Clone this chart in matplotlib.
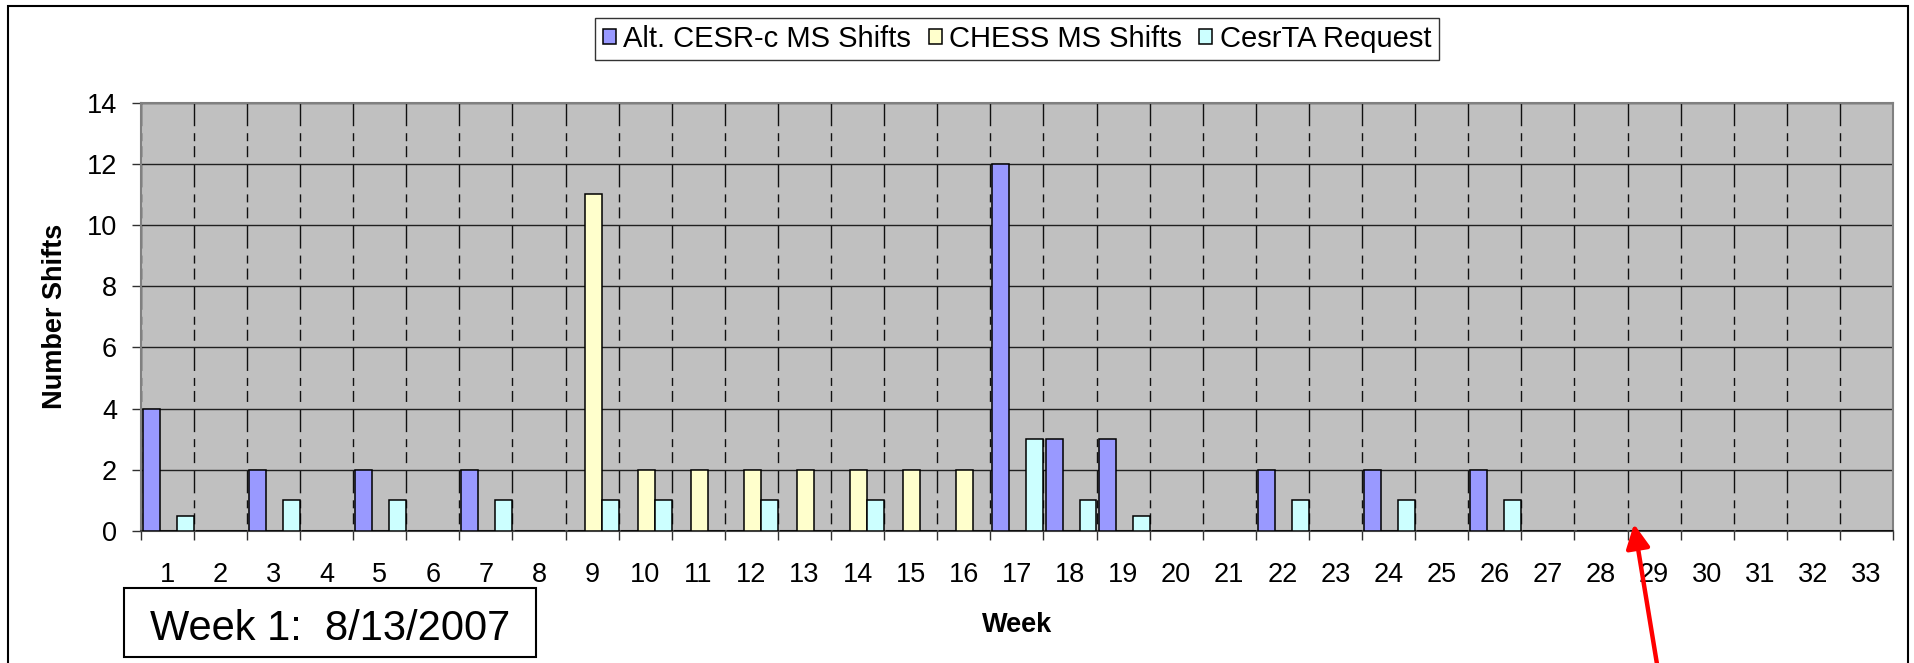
import numpy as np
import matplotlib
matplotlib.use('Agg')
import matplotlib.pyplot as plt
from matplotlib.patches import Rectangle, FancyArrowPatch

plt.rcParams['font.family'] = ['Liberation Sans', 'DejaVu Sans']
plt.rcParams['lines.scale_dashes'] = False

# ---- data ----
weeks = list(range(1, 34))
alt_cesr = [4, 0, 2, 0, 2, 0, 2, 0,
            0, 0, 0, 0, 0, 0, 0, 0,
            12, 3, 3, 0, 0, 2, 0, 2, 0, 2,
            0, 0, 0, 0, 0, 0, 0]
chess = [0, 0, 0, 0, 0, 0, 0, 0,
         11, 2, 2, 2, 2, 2, 2, 2,
         0, 0, 0, 0, 0, 0, 0, 0, 0, 0,
         0, 0, 0, 0, 0, 0, 0]
cesrta = [0.5, 0, 1, 0, 1, 0, 1, 0,
          1, 1, 0, 1, 0, 1, 0, 0,
          3, 1, 0.5, 0, 0, 1, 0, 1, 0, 1,
          0, 0, 0, 0, 0, 0, 0]
series_names = ['Alt. CESR-c MS Shifts', 'CHESS MS Shifts', 'CesrTA Request']
series_colors = ['#9999FF', '#FFFFCC', '#CCFFFF']
y_ticks = [0, 2, 4, 6, 8, 10, 12, 14]

W, H = 1915, 663
fig = plt.figure(figsize=(W / 100, H / 100), dpi=100)

ax_l, ax_r, ax_t, ax_b = 140.7, 1893.0, 102.7, 531.0
ax = fig.add_axes([ax_l / W, (H - ax_b) / H, (ax_r - ax_l) / W, (ax_b - ax_t) / H])
ax.set_facecolor('#C0C0C0')

x = np.array(weeks, dtype=float)
bw = 0.32
offsets = [-0.30, 0.02, 0.34]
for vals, off, col, lab in zip([alt_cesr, chess, cesrta], offsets, series_colors, series_names):
    ax.bar(x + off, vals, bw, color=col, edgecolor='black', linewidth=1.1,
           label=lab, zorder=3)

ax.set_xlim(0.5, 33.5)
ax.set_ylim(0, 14)
ax.set_axisbelow(True)

# x: boundary ticks (major) with gridlines, labels on minor ticks at centers
ax.set_xticks(np.arange(0.5, 34, 1.0))
ax.set_xticklabels([])
ax.set_xticks(x, minor=True)
ax.set_xticklabels([str(v) for v in weeks], minor=True)
ax.tick_params(axis='x', which='major', length=6.5, width=1.0, color='#303030', direction='out')
ax.tick_params(axis='x', which='minor', length=0, pad=22.3, labelsize=19.5)

ax.set_yticks(y_ticks)
ax.set_yticklabels([str(v) for v in y_ticks])
ax.tick_params(axis='y', length=6.5, width=1.0, color='#303030', direction='out',
               pad=10.5, labelsize=19.5)

# grids
period_px = (ax_b - ax_t) / 7.0
pat_px = [11, 5, 8, 7, 23, period_px - 54]
pat_pt = tuple(p * 0.72 for p in pat_px)
ax.yaxis.grid(True, color='#202020', linewidth=1.0)
ax.xaxis.grid(True, which='major', color='#101010', linewidth=1.0,
              linestyle=(54 * 0.72, pat_pt))

for s in ['top', 'right', 'left']:
    ax.spines[s].set_color('#808080')
    ax.spines[s].set_linewidth(1.5)
ax.spines['bottom'].set_color('#404040')
ax.spines['bottom'].set_linewidth(1.5)

# axis labels
ax.set_ylabel('Number Shifts', fontsize=19.5, fontweight='bold')
ax.yaxis.label.set_va('baseline')
ax.yaxis.set_label_coords((61.7 - ax_l) / (ax_r - ax_l), 0.5)
ax.set_xlabel('Week', fontsize=19.5, fontweight='bold')
ax.xaxis.label.set_va('baseline')
ax.xaxis.set_label_coords(0.5, (ax_b - 631.7) / (ax_b - ax_t))

# legend
leg = fig.legend(loc='center', bbox_to_anchor=(1017 / W, 1 - 39 / H), ncol=3,
                 fontsize=21, frameon=True, fancybox=False, shadow=False,
                 handlelength=0.45, handleheight=0.45, handletextpad=0.25,
                 columnspacing=0.6, borderpad=0.25, borderaxespad=0)
leg.get_frame().set_edgecolor('black')
leg.get_frame().set_linewidth(1.0)

# outer frame
fig.add_artist(Rectangle((8 / W, -0.05), (1908 - 8) / W, (1 - 6 / H) + 0.05,
                         transform=fig.transFigure, fill=False, edgecolor='black',
                         linewidth=1.5, clip_on=False))

# week-1 note box
fig.add_artist(Rectangle((124 / W, 1 - 657 / H), (536 - 124) / W, (657 - 588) / H,
                         transform=fig.transFigure, facecolor='white', edgecolor='black',
                         linewidth=1.5))
fig.text(330 / W, 1 - 640 / H, 'Week 1:  8/13/2007', fontsize=30, ha='center',
         va='baseline')

# red arrow
fig.add_artist(FancyArrowPatch(
    posA=(1659 / W, -0.02), posB=(1634 / W, 1 - 524 / H),
    transform=fig.transFigure, arrowstyle='-|>', mutation_scale=36,
    color='#FF0000', linewidth=3.2, shrinkA=0, shrinkB=0))

fig.savefig('out.png', dpi=100)
